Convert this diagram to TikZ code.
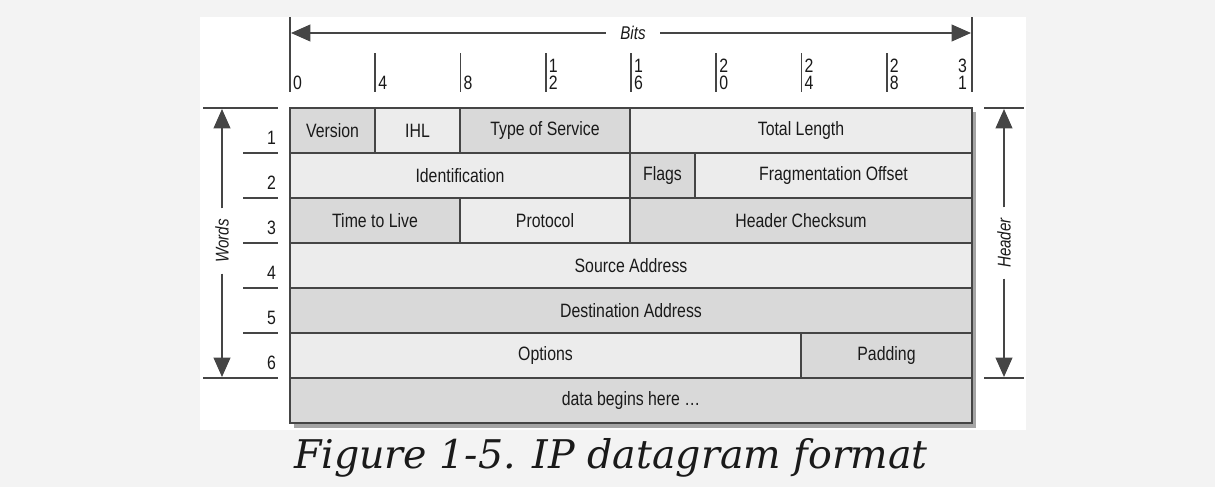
\documentclass[tikz,border=0pt]{standalone}
\usepackage{fontspec}
\usepackage{tikz}
\usetikzlibrary{positioning}
\usetikzlibrary{arrows.meta}
\usetikzlibrary{fit}

\IfFontExistsTF{Liberation Sans Narrow}
  {\newfontfamily\narrowfont{Liberation Sans Narrow}}
  {\newfontfamily\narrowfont[FakeStretch=0.82]{Liberation Sans}}
\newfontfamily\captionfont{DejaVu Serif}

\definecolor{cellDark}{HTML}{D9D9D9}
\definecolor{cellLight}{HTML}{ECECEC}
\definecolor{frameGray}{HTML}{454545}
\definecolor{shadowGray}{HTML}{A5A5A5}
\definecolor{pageGray}{HTML}{F3F3F3}
\definecolor{inkGray}{HTML}{1A1A1A}

\begin{document}
\begin{tikzpicture}[
  x=0.02cm, y=-0.02cm, % one unit = one pixel of the figure
  every node/.style={
    text=inkGray,
    font=\narrowfont\fontsize{11}{10}\selectfont
  },
  cell/.style={draw=frameGray, line width=1.1pt, inner sep=0pt},
  dark/.style={cell, fill=cellDark},
  light/.style={cell, fill=cellLight},
  rule/.style={draw=frameGray, line width=1pt},
  side/.style={rotate=90, inner sep=6pt, font=\narrowfont\itshape\fontsize{10.5}{12}\selectfont},
  arrow/.style={-{Triangle[length=11pt, width=9.5pt]}, draw=frameGray, line width=1pt}
]
\useasboundingbox (0,0) rectangle (1215,487);
\fill[pageGray] (0,0) rectangle (1215,487);
\fill[white] (200,17) rectangle (1026,430);
\fill[shadowGray] (294,112) rectangle (976,428);

% header fields, row by row
\node[dark, fit={(290,108) (375,153)}, label=center:Version] (version) {};
\node[light, fit={(375,108) (460,153)}, label=center:IHL] (ihl) {};
\node[dark, fit={(460,108) (630,153)}, label=center:Type of Service] (tos) {};
\node[light, fit={(630,108) (972,153)}, label=center:Total Length] (totlen) {};

\node[light, fit={(290,153) (630,198)}, label=center:Identification] (ident) {};
\node[dark, fit={(630,153) (695,198)}, label=center:Flags] (flags) {};
\node[light, fit={(695,153) (972,198)}, label=center:Fragmentation Offset] (fragoff) {};

\node[dark, fit={(290,198) (460,243)}, label=center:Time to Live] (ttl) {};
\node[light, fit={(460,198) (630,243)}, label=center:Protocol] (proto) {};
\node[dark, fit={(630,198) (972,243)}, label=center:Header Checksum] (hdrsum) {};

\node[light, fit={(290,243) (972,288)}, label=center:Source Address] (srcaddr) {};
\node[dark, fit={(290,288) (972,333)}, label=center:Destination Address] (dstaddr) {};

\node[light, fit={(290,333) (801,378)}, label=center:Options] (options) {};
\node[dark, fit={(801,333) (972,378)}, label=center:Padding] (padding) {};

\node[dark, fit={(290,378) (972,423)}, label=center:{data begins here \dots}] (data) {};

% bit ruler
\draw[rule] (290,17) -- (290,92);
\draw[rule] (972,17) -- (972,92);
\foreach \k/\lab in {0/0, 1/4, 2/8, 3/{1\\2}, 4/{1\\6}, 5/{2\\0}, 6/{2\\4}, 7/{2\\8}} {
  \draw[rule] ({290+85.25*\k},53) -- ({290+85.25*\k},92);
  \node[anchor=south west, align=left, inner sep=1pt] (tick\k) at ({291+85.25*\k},92) {\lab};
}
\node[anchor=south east, align=right, inner sep=1pt] (tick8) at (969,92) {3\\1};

\node[side, rotate=-90, inner xsep=8pt] (bits) at (633,33) {Bits};
\coordinate (bitsL) at (291,33);
\coordinate (bitsR) at (971,33);
\draw[arrow] (bits) -- (bitsL);
\draw[arrow] (bits) -- (bitsR);

% word counter on the left
\draw[rule] (203,108) -- (278,108);
\draw[rule] (203,378) -- (278,378);
\foreach \r in {1,...,5}
  \draw[rule] (243,{108+45*\r}) -- (278,{108+45*\r});
\foreach \r in {1,...,6}
  \node[anchor=east, inner sep=1pt] (word\r) at (278,{108+45*\r-15}) {\r};

\node[side] (words) at (222,241) {Words};
\coordinate (wordsTop) at (222,109);
\coordinate (wordsBot) at (222,377);
\draw[arrow] (words) -- (wordsTop);
\draw[arrow] (words) -- (wordsBot);

% header span on the right
\draw[rule] (984,108) -- (1024,108);
\draw[rule] (984,378) -- (1024,378);
\node[side] (header) at (1004,243) {Header};
\coordinate (headerTop) at (1004,109);
\coordinate (headerBot) at (1004,377);
\draw[arrow] (header) -- (headerTop);
\draw[arrow] (header) -- (headerBot);

\node[font=\captionfont\itshape\fontsize{22.5}{26}\selectfont] (caption) at (611,458) {Figure 1-5. IP datagram format};
\end{tikzpicture}
\end{document}
